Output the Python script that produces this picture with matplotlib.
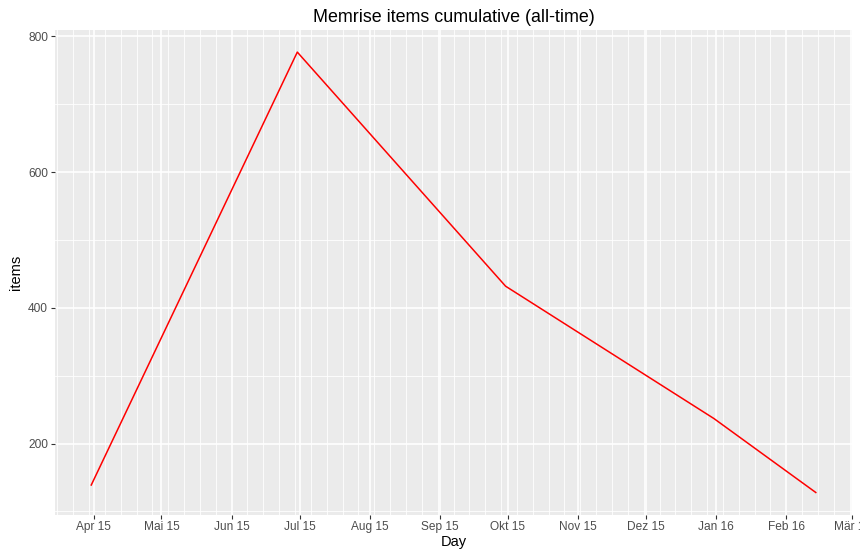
import matplotlib

matplotlib.use("Agg")
import matplotlib.dates as mdates
import matplotlib.pyplot as plt
import pandas as pd

# values
days = ["2015-03-31", "2015-06-30", "2015-09-30", "2015-12-31", "2016-02-14"]
items = [139, 777, 432, 237, 128]

month_ticks = ["2015-04-01", "2015-05-01", "2015-06-01", "2015-07-01", "2015-08-01",
               "2015-09-01", "2015-10-01", "2015-11-01", "2015-12-01", "2016-01-01",
               "2016-02-01", "2016-03-01"]
month_labels = ["Apr 15", "Mai 15", "Jun 15", "Jul 15", "Aug 15", "Sep 15",
                "Okt 15", "Nov 15", "Dez 15", "Jan 16", "Feb 16", "Mär 16"]
y_major = [200, 400, 600, 800]
y_minor = [100, 300, 500, 700]

plt.rcParams["font.family"] = ["Liberation Sans", "DejaVu Sans"]

fig = plt.figure(figsize=(8.6, 5.57), dpi=100)
ax = fig.add_axes([0.064, 0.0763, 0.9267, 0.8697])
ax.set_facecolor("#EBEBEB")
for s in ax.spines.values():
    s.set_visible(False)

x = pd.to_datetime(days)
ax.plot(x, items, color="#FF0000", linewidth=1.1, zorder=3)
ax.margins(x=0.05, y=0.05)

ax.set_xticks(pd.to_datetime(month_ticks))
ax.set_xticklabels(month_labels)
ax.xaxis.set_minor_locator(mdates.WeekdayLocator(byweekday=mdates.MO))
ax.set_yticks(y_major)
ax.set_yticks(y_minor, minor=True)

ax.grid(which="major", color="white", linewidth=1.2)
ax.grid(which="minor", color="white", linewidth=0.6)
ax.set_axisbelow(True)

ax.tick_params(which="major", length=3, width=0.8, color="#333333",
               labelsize=8.6, labelcolor="#4D4D4D", pad=2)
ax.tick_params(which="minor", length=0)

ax.set_xlabel("Day", fontsize=10.5, labelpad=1)
ax.set_ylabel("items", fontsize=10.5, labelpad=4)
ax.set_title("Memrise items cumulative (all-time)", fontsize=12.9, pad=6)

fig.savefig("out.png", dpi=100)
